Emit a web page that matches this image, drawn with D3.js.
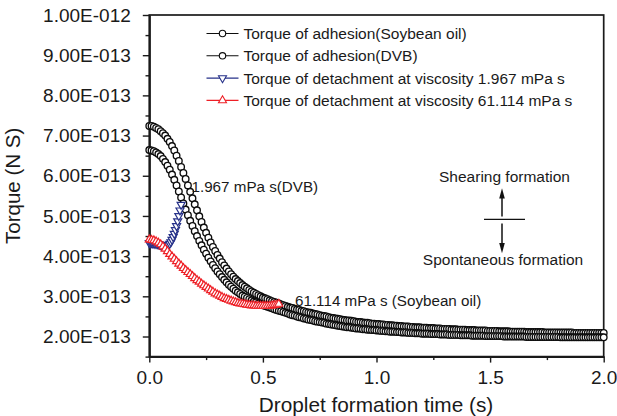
<!DOCTYPE html>
<html>
<head>
<meta charset="utf-8">
<script src="https://cdn.jsdelivr.net/npm/d3@7"></script>
<style>
html, body { margin: 0; padding: 0; background: #fff; }
svg { display: block; }
text { font-family: "Liberation Sans", Arial, Helvetica, sans-serif; fill: #1a1a1a; }
</style>
</head>
<body>
<svg id="chart" width="617" height="416"></svg>
<script>
// Torque values are given in units of 1E-13 N S
const UNIT = 1e-13;

// Sampling grids (s)
const adhesionTimes = d3.range(201).map(i => i / 100);
const soyDetachTimes = d3.range(58).map(i => i / 100);
const dvbDetachTimes = d3.range(29).map(i => i / 200);

// Torque of adhesion (Soybean oil)
const adhesionSoybean = [
  7.24,7.24,7.22,7.19,7.16,7.11,7.06,7.00,6.92,6.84,
  6.74,6.63,6.50,6.37,6.22,6.07,5.92,5.76,5.60,5.44,
  5.29,5.14,4.99,4.85,4.71,4.58,4.46,4.34,4.23,4.13,
  4.03,3.94,3.85,3.77,3.69,3.62,3.55,3.49,3.43,3.38,
  3.33,3.28,3.24,3.20,3.16,3.12,3.09,3.06,3.03,3.00,
  2.97,2.95,2.93,2.90,2.88,2.86,2.84,2.82,2.80,2.78,
  2.76,2.74,2.72,2.71,2.69,2.67,2.66,2.64,2.63,2.61,
  2.60,2.59,2.57,2.56,2.55,2.53,2.52,2.51,2.50,2.48,
  2.47,2.46,2.45,2.44,2.43,2.42,2.41,2.40,2.40,2.39,
  2.38,2.37,2.36,2.36,2.35,2.34,2.34,2.33,2.32,2.32,
  2.31,2.31,2.30,2.30,2.29,2.29,2.28,2.28,2.27,2.27,
  2.26,2.26,2.25,2.25,2.25,2.24,2.24,2.23,2.23,2.23,
  2.22,2.22,2.22,2.21,2.21,2.21,2.20,2.20,2.20,2.19,
  2.19,2.19,2.19,2.18,2.18,2.18,2.17,2.17,2.17,2.17,
  2.16,2.16,2.16,2.16,2.15,2.15,2.15,2.15,2.15,2.14,
  2.14,2.14,2.14,2.14,2.13,2.13,2.13,2.13,2.13,2.12,
  2.12,2.12,2.12,2.12,2.12,2.12,2.11,2.11,2.11,2.11,
  2.11,2.11,2.11,2.11,2.10,2.10,2.10,2.10,2.10,2.10,
  2.10,2.10,2.10,2.10,2.10,2.10,2.10,2.09,2.09,2.09,
  2.09,2.09,2.09,2.09,2.09,2.09,2.09,2.09,2.09,2.09,
  2.09
];

// Torque of adhesion (DVB)
const adhesionDVB = [
  6.64,6.63,6.61,6.58,6.54,6.49,6.42,6.34,6.25,6.15,
  6.03,5.90,5.76,5.61,5.46,5.31,5.16,5.02,4.88,4.75,
  4.62,4.50,4.38,4.27,4.16,4.06,3.96,3.87,3.78,3.70,
  3.62,3.55,3.48,3.41,3.35,3.29,3.24,3.19,3.14,3.10,
  3.06,3.02,2.99,2.96,2.93,2.90,2.87,2.85,2.82,2.80,
  2.78,2.76,2.74,2.72,2.70,2.68,2.66,2.64,2.63,2.61,
  2.59,2.57,2.55,2.53,2.52,2.50,2.48,2.47,2.45,2.44,
  2.42,2.41,2.40,2.38,2.37,2.36,2.35,2.34,2.32,2.31,
  2.30,2.29,2.28,2.27,2.26,2.25,2.24,2.23,2.23,2.22,
  2.21,2.20,2.20,2.19,2.18,2.18,2.17,2.17,2.16,2.16,
  2.15,2.15,2.14,2.14,2.13,2.13,2.12,2.12,2.12,2.11,
  2.11,2.10,2.10,2.10,2.09,2.09,2.09,2.08,2.08,2.08,
  2.07,2.07,2.07,2.07,2.06,2.06,2.06,2.06,2.05,2.05,
  2.05,2.05,2.04,2.04,2.04,2.04,2.04,2.03,2.03,2.03,
  2.03,2.03,2.02,2.02,2.02,2.02,2.02,2.02,2.01,2.01,
  2.01,2.01,2.01,2.01,2.01,2.01,2.00,2.00,2.00,2.00,
  2.00,2.00,2.00,2.00,2.00,2.00,1.99,1.99,1.99,1.99,
  1.99,1.99,1.99,1.99,1.99,1.99,1.99,1.99,1.99,1.99,
  1.99,1.98,1.98,1.98,1.98,1.98,1.98,1.98,1.98,1.98,
  1.98,1.98,1.98,1.98,1.98,1.98,1.98,1.98,1.98,1.98,
  1.98
];

// Torque of detachment at viscosity 1.967 mPa s
const detachDVB = [
  4.33,4.33,4.33,4.32,4.32,4.31,4.31,4.30,4.30,4.29,
  4.28,4.27,4.26,4.25,4.25,4.25,4.26,4.28,4.31,4.35,
  4.41,4.48,4.56,4.65,4.75,4.87,5.00,5.14,5.28
];

// Torque of detachment at viscosity 61.114 mPa s
const detachSoybean = [
  4.41,4.40,4.39,4.36,4.33,4.29,4.24,4.18,4.12,4.05,
  3.99,3.93,3.87,3.81,3.76,3.70,3.65,3.60,3.55,3.50,
  3.45,3.40,3.36,3.31,3.27,3.23,3.19,3.15,3.11,3.07,
  3.04,3.01,2.98,2.95,2.93,2.91,2.89,2.87,2.85,2.83,
  2.82,2.81,2.80,2.79,2.78,2.77,2.77,2.76,2.76,2.76,
  2.76,2.76,2.76,2.76,2.77,2.78,2.79,2.81
];

const legendLabels = [
  "Torque of adhesion(Soybean oil)",
  "Torque of adhesion(DVB)",
  "Torque of detachment at viscosity 1.967 mPa s",
  "Torque of detachment at viscosity 61.114 mPa s"
];

const xTickValues = [0, 0.5, 1.0, 1.5, 2.0];
const xTickLabels = ["0.0", "0.5", "1.0", "1.5", "2.0"];
const xMinorValues = [0.25, 0.75, 1.25, 1.75];
const yTickValues = [2, 3, 4, 5, 6, 7, 8, 9, 10].map(v => v * UNIT);
const yTickLabels = ["2.00E-013", "3.00E-013", "4.00E-013", "5.00E-013", "6.00E-013",
                     "7.00E-013", "8.00E-013", "9.00E-013", "1.00E-012"];
const yMinorValues = [1.5, 2.5, 3.5, 4.5, 5.5, 6.5, 7.5, 8.5, 9.5].map(v => v * UNIT);

const svg = d3.select("#chart");
const plotLeft = 149.3, plotRight = 603.7, plotTop = 15, plotBottom = 356.6;

const x = d3.scaleLinear().domain([0, 2]).range([plotLeft, plotRight]);
const y = d3.scaleLinear().domain([1.5 * UNIT, 10 * UNIT]).range([plotBottom, plotTop]);

const BLUE = "#263189";
const RED = "#ee1f26";
const BLACK = "#0d0d0d";

// Frame
svg.append("rect")
  .attr("x", plotLeft).attr("y", plotTop)
  .attr("width", plotRight - plotLeft).attr("height", plotBottom - plotTop)
  .attr("fill", "none").attr("stroke", "#1a1a1a").attr("stroke-width", 1.7);

// Axes
const xAxis = svg.append("g").attr("transform", `translate(0,${plotBottom})`)
  .call(d3.axisBottom(x).tickValues(xTickValues)
    .tickFormat((d, i) => xTickLabels[i]).tickSize(6).tickSizeOuter(0).tickPadding(8));
const xMinor = svg.append("g").attr("transform", `translate(0,${plotBottom})`)
  .call(d3.axisBottom(x).tickValues(xMinorValues).tickFormat("").tickSize(3.5).tickSizeOuter(0));
const yAxis = svg.append("g").attr("transform", `translate(${plotLeft},0)`)
  .call(d3.axisLeft(y).tickValues(yTickValues)
    .tickFormat((d, i) => yTickLabels[i]).tickSize(6.5).tickSizeOuter(0).tickPadding(12));
const yMinor = svg.append("g").attr("transform", `translate(${plotLeft},0)`)
  .call(d3.axisLeft(y).tickValues(yMinorValues).tickFormat("").tickSize(3.8).tickSizeOuter(0));

[xAxis, xMinor, yAxis, yMinor].forEach(g => {
  g.select(".domain").attr("stroke", "#1a1a1a").attr("stroke-width", 1.7);
  g.selectAll(".tick line").attr("stroke", "#1a1a1a").attr("stroke-width", 1.4);
  g.selectAll("text").attr("font-size", 19).attr("fill", "#1a1a1a")
    .attr("font-family", '"Liberation Sans", Arial, Helvetica, sans-serif');
});

// Axis titles
svg.append("text")
  .attr("x", (plotLeft + plotRight) / 2 - 0.5).attr("y", 412)
  .attr("text-anchor", "middle").attr("font-size", 20.8)
  .text("Droplet formation time (s)");
svg.append("text")
  .attr("transform", `translate(20,${(plotTop + plotBottom) / 2}) rotate(-90)`)
  .attr("text-anchor", "middle").attr("font-size", 20.5)
  .text("Torque (N S)");

// Marker shapes
const triUp = "M0,-4.6L4,2.3L-4,2.3Z";
const triDown = "M0,4.6L4,-2.3L-4,-2.3Z";

const series = [
  { times: adhesionTimes, values: adhesionSoybean, color: BLACK, marker: "circle" },
  { times: adhesionTimes, values: adhesionDVB, color: BLACK, marker: "circle" },
  { times: dvbDetachTimes, values: detachDVB, color: BLUE, marker: triDown },
  { times: soyDetachTimes, values: detachSoybean, color: RED, marker: triUp }
];

const line = d3.line().x(d => x(d[0])).y(d => y(d[1]));

series.forEach(s => {
  const pts = s.times.map((t, i) => [t, s.values[i] * UNIT]);
  const g = svg.append("g");
  g.append("path").datum(pts).attr("d", line)
    .attr("fill", "none").attr("stroke", s.color).attr("stroke-width", 1.1);
  if (s.marker === "circle") {
    g.selectAll("circle").data(pts).join("circle")
      .attr("cx", d => x(d[0])).attr("cy", d => y(d[1])).attr("r", 3.3)
      .attr("fill", "#fff").attr("stroke", s.color).attr("stroke-width", 1.35);
  } else {
    g.selectAll("path.m").data(pts).join("path").attr("class", "m")
      .attr("d", s.marker)
      .attr("transform", d => `translate(${x(d[0])},${y(d[1])})`)
      .attr("fill", "#fff").attr("stroke", s.color).attr("stroke-width", 1.2);
  }
});

// Legend
const legend = svg.append("g");
const legendColors = [BLACK, BLACK, BLUE, RED];
const legendMarkers = ["circle", "circle", triDown, triUp];
legendLabels.forEach((lab, i) => {
  const cy = 33.5 + i * 22.3;
  legend.append("line").attr("x1", 206.5).attr("x2", 238.5).attr("y1", cy).attr("y2", cy)
    .attr("stroke", legendColors[i]).attr("stroke-width", 1.1);
  if (legendMarkers[i] === "circle") {
    legend.append("circle").attr("cx", 222.5).attr("cy", cy).attr("r", 3.2)
      .attr("fill", "#fff").attr("stroke", legendColors[i]).attr("stroke-width", 1.1);
  } else {
    legend.append("path").attr("d", legendMarkers[i])
      .attr("transform", `translate(222.5,${cy})`)
      .attr("fill", "#fff").attr("stroke", legendColors[i]).attr("stroke-width", 1.1);
  }
  legend.append("text").attr("x", 243.5).attr("y", cy + 5.5)
    .attr("font-size", 15.5).text(lab);
});

// Annotations
svg.append("text").attr("x", 191.5).attr("y", 191.5).attr("font-size", 15.2)
  .text("1.967 mPa s(DVB)");
svg.append("text").attr("x", 295).attr("y", 305.5).attr("font-size", 15.2)
  .text("61.114 mPa s (Soybean oil)");

svg.append("text").attr("x", 504.5).attr("y", 182).attr("text-anchor", "middle")
  .attr("font-size", 15.5).text("Shearing formation");
svg.append("text").attr("x", 503).attr("y", 265).attr("text-anchor", "middle")
  .attr("font-size", 15.5).text("Spontaneous formation");

// Direction arrows
const ax = 502;
svg.append("line").attr("x1", 484).attr("x2", 525).attr("y1", 219.3).attr("y2", 219.3)
  .attr("stroke", "#111").attr("stroke-width", 1.3);
svg.append("line").attr("x1", ax).attr("x2", ax).attr("y1", 216.5).attr("y2", 196)
  .attr("stroke", "#111").attr("stroke-width", 1.5);
svg.append("path").attr("d", `M${ax},188.3L${ax + 2.8},198.5L${ax - 2.8},198.5Z`).attr("fill", "#111");
svg.append("line").attr("x1", ax).attr("x2", ax).attr("y1", 223.5).attr("y2", 245)
  .attr("stroke", "#111").attr("stroke-width", 1.5);
svg.append("path").attr("d", `M${ax},253.3L${ax + 2.8},243L${ax - 2.8},243Z`).attr("fill", "#111");
</script>
</body>
</html>
